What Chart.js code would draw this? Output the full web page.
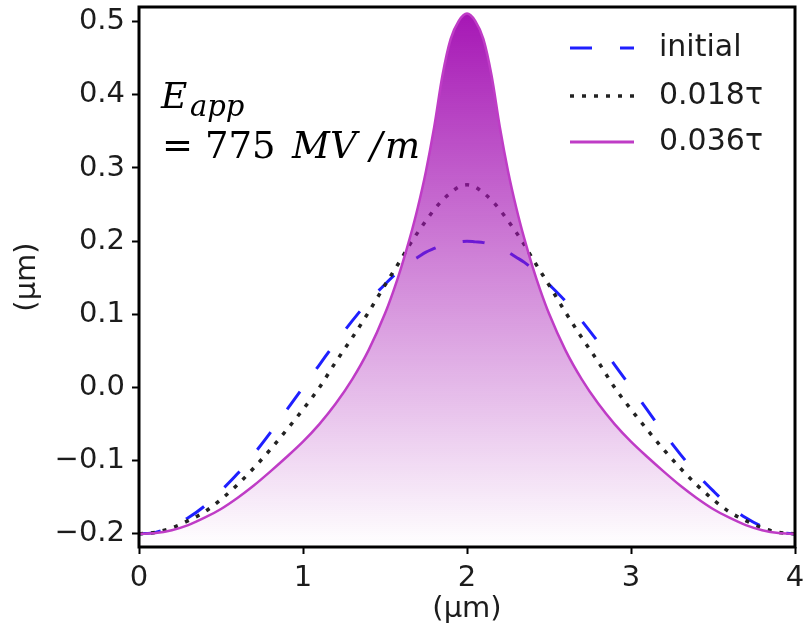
<!DOCTYPE html>
<html>
<head>
<meta charset="utf-8">
<script src="https://cdn.jsdelivr.net/npm/chart.js@4"></script>
<style>
  html, body { margin: 0; padding: 0; background: #fff; }
  #wrap { width: 805px; height: 632px; }
</style>
</head>
<body>
<div id="wrap"><canvas id="grafico" width="805" height="632"></canvas></div>
<script>
// positions along the surface (um)
const xPos = [0, 0.1, 0.2, 0.3, 0.4, 0.5, 0.6, 0.7, 0.8, 0.9, 1.0, 1.1, 1.2, 1.3, 1.4, 1.5,
  1.55, 1.6, 1.65, 1.7, 1.75, 1.8, 1.85, 1.9, 1.95, 2.0, 2.05, 2.1, 2.15, 2.2, 2.25, 2.3, 2.35, 2.4, 2.45,
  2.5, 2.6, 2.7, 2.8, 2.9, 3.0, 3.1, 3.2, 3.3, 3.4, 3.5, 3.6, 3.7, 3.8, 3.9, 4.0];

const initial = [-0.200, -0.198, -0.190, -0.178, -0.162, -0.141, -0.118, -0.091, -0.062, -0.031, 0.000,
  0.031, 0.062, 0.091, 0.118, 0.141, 0.152, 0.162, 0.171, 0.178, 0.185, 0.190, 0.195, 0.198, 0.199, 0.200,
  0.199, 0.198, 0.195, 0.190, 0.185, 0.178, 0.171, 0.162, 0.152, 0.141, 0.118, 0.091, 0.062, 0.031, 0.000,
  -0.031, -0.062, -0.091, -0.118, -0.141, -0.162, -0.178, -0.190, -0.198, -0.200];

const t018 = [-0.200, -0.198, -0.192, -0.182, -0.170, -0.153, -0.133, -0.110, -0.085, -0.058, -0.030,
  0.000, 0.035, 0.068, 0.103, 0.140, 0.158, 0.176, 0.195, 0.212, 0.228, 0.243, 0.256, 0.266, 0.274, 0.277,
  0.274, 0.266, 0.256, 0.243, 0.228, 0.212, 0.195, 0.176, 0.158, 0.140, 0.103, 0.068, 0.035, 0.000, -0.030,
  -0.058, -0.085, -0.110, -0.133, -0.153, -0.170, -0.182, -0.192, -0.198, -0.200];

const t036 = [-0.200, -0.199, -0.195, -0.188, -0.178, -0.166, -0.151, -0.134, -0.115, -0.095, -0.074,
  -0.050, -0.022, 0.011, 0.051, 0.101, 0.131, 0.165, 0.203, 0.246, 0.296, 0.356, 0.426, 0.476, 0.501, 0.511,
  0.501, 0.476, 0.426, 0.356, 0.296, 0.246, 0.203, 0.165, 0.131, 0.101, 0.051, 0.011, -0.022, -0.050, -0.074,
  -0.095, -0.115, -0.134, -0.151, -0.166, -0.178, -0.188, -0.195, -0.199, -0.200];

const xTicks = [0, 1, 2, 3, 4];
const yTicks = [-0.2, -0.1, 0.0, 0.1, 0.2, 0.3, 0.4, 0.5];
const seriesNames = ['initial', '0.018τ', '0.036τ'];

const pts = (ys) => xPos.map((x, i) => ({ x: x, y: ys[i] }));

Chart.defaults.font.family = 'DejaVu Sans';
Chart.defaults.color = '#1c1c1c';

// frame, annotation and legend drawn inside the plot
const extras = {
  id: 'extras',
  afterDraw(chart) {
    const c = chart.ctx;
    const a = chart.chartArea;
    c.save();
    c.strokeStyle = '#000';
    c.lineWidth = 3;
    c.strokeRect(a.left, a.top, a.right - a.left, a.bottom - a.top);

    // E_app = 775 MV/m
    c.fillStyle = '#000';
    c.textBaseline = 'alphabetic';
    c.textAlign = 'left';
    c.font = 'italic 36px "DejaVu Serif"';
    c.fillText('E', 161, 108);
    c.font = 'italic 29px "DejaVu Serif"';
    c.fillText('app', 190, 116);
    c.font = '37px "DejaVu Serif"';
    c.fillText('=', 162, 158);
    c.fillText('775', 205, 158);
    c.font = 'italic 37px "DejaVu Serif"';
    c.fillText('MV', 292, 158);
    c.fillText('/', 370, 158);
    c.fillText('m', 385, 158);

    // legend
    const rows = [
      { y: 48, color: '#1f1fff', dash: [22, 28], w: 3 },
      { y: 96, color: '#222', dash: [4, 8], w: 3.5 },
      { y: 142, color: '#bf3cc6', dash: [], w: 3 }
    ];
    rows.forEach((r, i) => {
      c.beginPath();
      c.setLineDash(r.dash);
      c.strokeStyle = r.color;
      c.lineWidth = r.w;
      c.moveTo(570, r.y);
      c.lineTo(634, r.y);
      c.stroke();
      c.setLineDash([]);
      c.fillStyle = '#1c1c1c';
      c.font = '30px "DejaVu Sans"';
      c.textBaseline = 'middle';
      c.fillText(seriesNames[i], 659, r.y);
    });
    c.restore();
  }
};

const ctx = document.getElementById('grafico').getContext('2d');

new Chart(ctx, {
  type: 'line',
  data: {
    datasets: [
      {
        label: seriesNames[2],
        data: pts(t036),
        borderColor: '#bf3cc6',
        borderWidth: 2.5,
        pointRadius: 0,
        cubicInterpolationMode: 'monotone',
        fill: 'start',
        backgroundColor: (context) => {
          const area = context.chart.chartArea;
          if (!area) return 'rgba(165,20,180,0.5)';
          const g = context.chart.ctx.createLinearGradient(0, area.top, 0, area.bottom);
          g.addColorStop(0, 'rgba(165,20,180,1)');
          g.addColorStop(1, 'rgba(165,20,180,0)');
          return g;
        }
      },
      {
        label: seriesNames[1],
        data: pts(t018),
        borderColor: '#222',
        borderWidth: 3.5,
        borderDash: [4, 8],
        pointRadius: 0,
        cubicInterpolationMode: 'monotone',
        fill: false
      },
      {
        label: seriesNames[0],
        data: pts(initial),
        borderColor: '#1f1fff',
        borderWidth: 3,
        borderDash: [22, 28],
        pointRadius: 0,
        cubicInterpolationMode: 'monotone',
        fill: false
      }
    ]
  },
  options: {
    responsive: false,
    animation: false,
    layout: { padding: { left: 0, right: 10, top: 7, bottom: 0 } },
    plugins: {
      legend: { display: false },
      tooltip: { enabled: false }
    },
    scales: {
      x: {
        type: 'linear',
        min: 0,
        max: 4,
        afterBuildTicks: (s) => { s.ticks = xTicks.map(v => ({ value: v })); },
        afterFit: (s) => { s.height = 85; s.paddingLeft = 0; s.paddingRight = 0; },
        border: { display: false },
        grid: { drawOnChartArea: false, drawTicks: true, tickLength: 7, tickWidth: 2, tickColor: '#000' },
        ticks: { font: { size: 29 }, padding: 7, maxRotation: 0, callback: (v) => String(v) },
        title: { display: true, text: '(μm)', font: { size: 29 }, padding: { top: 0, bottom: 5 } }
      },
      y: {
        type: 'linear',
        min: -0.218,
        max: 0.52,
        afterBuildTicks: (s) => { s.ticks = yTicks.map(v => ({ value: v })); },
        afterFit: (s) => { s.width = 139; s.paddingTop = 0; s.paddingBottom = 0; },
        border: { display: false },
        grid: { drawOnChartArea: false, drawTicks: true, tickLength: 7, tickWidth: 2, tickColor: '#000' },
        ticks: {
          font: { size: 29 },
          padding: 7,
          callback: (v) => v.toFixed(1).replace('-', '\u2212')
        },
        title: { display: true, text: '(μm)', font: { size: 29 }, padding: { top: 10, bottom: 0 } }
      }
    }
  },
  plugins: [extras]
});
</script>
</body>
</html>
